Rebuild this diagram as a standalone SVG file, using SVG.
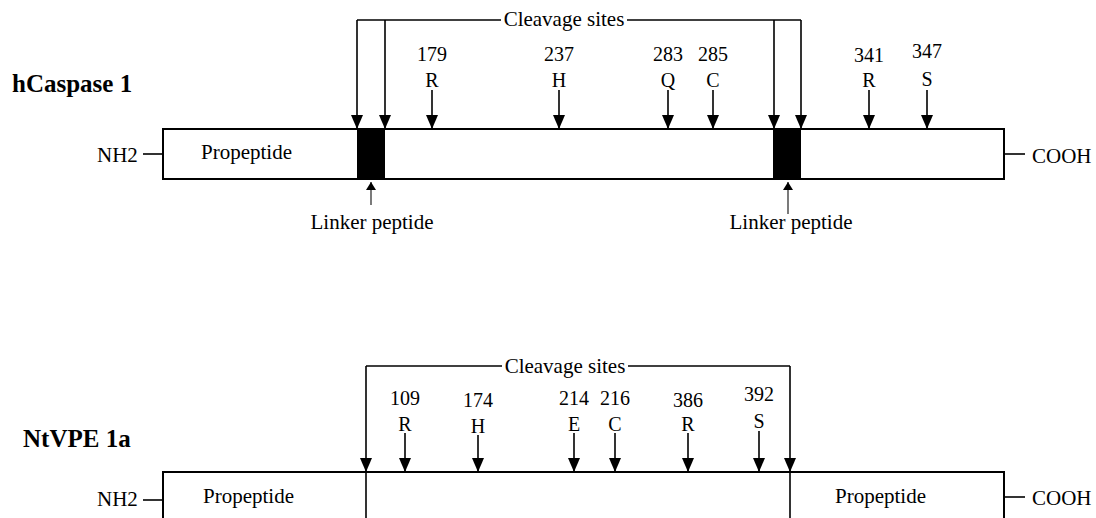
<svg xmlns="http://www.w3.org/2000/svg" width="1096" height="518" viewBox="0 0 1096 518">
<style>
text{font-family:"Liberation Serif","Times New Roman",serif;fill:#000}
.lbl{font-size:21px}
.num{font-size:20px;text-anchor:middle}
.ttl{font-size:25px;font-weight:bold}
.box{fill:#fff;stroke:#000;stroke-width:2}
.ln{stroke:#000;stroke-width:1.6;fill:none}
.arr{stroke:#000;stroke-width:1.6;fill:none;marker-end:url(#ah)}
.up{stroke:#222;stroke-width:1.2;fill:none;marker-end:url(#sh)}
</style>
<defs>
<marker id="ah" viewBox="0 0 14 12" refX="14" refY="6" markerWidth="14" markerHeight="12" markerUnits="userSpaceOnUse" orient="auto"><path d="M0,0 L14,6 L0,12 Z" fill="#000"/></marker>
<marker id="sh" viewBox="0 0 8 10" refX="8" refY="5" markerWidth="8" markerHeight="10" markerUnits="userSpaceOnUse" orient="auto"><path d="M0,0 L8,5 L0,10 Z" fill="#000"/></marker>
</defs>
<rect width="1096" height="518" fill="#fff"/>

<!-- hCaspase 1 -->
<g id="hcaspase">
<text class="ttl" x="12" y="92">hCaspase 1</text>
<rect class="box" x="163" y="129" width="841" height="50"/>
<rect x="357" y="129" width="28" height="50" fill="#000"/>
<rect x="773" y="129" width="28" height="50" fill="#000"/>
<text class="lbl" x="201" y="159">Propeptide</text>
<text class="lbl" x="97" y="162">NH2</text>
<text class="lbl" x="1032" y="163">COOH</text>
<text class="lbl" x="372" y="229" text-anchor="middle">Linker peptide</text>
<text class="lbl" x="791" y="229" text-anchor="middle">Linker peptide</text>
<text class="lbl" x="564" y="26" text-anchor="middle">Cleavage sites</text>
<text class="num" x="432" y="61">179</text><text class="num" x="432" y="87">R</text>
<text class="num" x="559" y="61">237</text><text class="num" x="559" y="87">H</text>
<text class="num" x="668" y="61">283</text><text class="num" x="668" y="87">Q</text>
<text class="num" x="713" y="61">285</text><text class="num" x="713" y="87">C</text>
<text class="num" x="869" y="62">341</text><text class="num" x="869" y="87">R</text>
<text class="num" x="927" y="58">347</text><text class="num" x="927" y="86">S</text>
</g>

<!-- NtVPE 1a -->
<g id="ntvpe">
<text class="ttl" x="23" y="447">NtVPE 1a</text>
<rect class="box" x="163" y="472" width="841" height="80"/>
<line class="ln" x1="366" y1="472" x2="366" y2="520"/>
<line class="ln" x1="790" y1="472" x2="790" y2="520"/>
<text class="lbl" x="203" y="503">Propeptide</text>
<text class="lbl" x="835" y="503">Propeptide</text>
<text class="lbl" x="97" y="506">NH2</text>
<text class="lbl" x="1032" y="505">COOH</text>
<text class="lbl" x="565" y="373" text-anchor="middle">Cleavage sites</text>
<text class="num" x="405" y="405">109</text><text class="num" x="405" y="431">R</text>
<text class="num" x="478" y="407">174</text><text class="num" x="478" y="433">H</text>
<text class="num" x="574" y="405">214</text><text class="num" x="574" y="431">E</text>
<text class="num" x="615" y="405">216</text><text class="num" x="615" y="431">C</text>
<text class="num" x="688" y="407">386</text><text class="num" x="688" y="431">R</text>
<text class="num" x="759" y="401">392</text><text class="num" x="759" y="428">S</text>
</g>

<g id="connectors">
<!-- top terminals -->
<line class="ln" x1="143" y1="154" x2="163" y2="154"/>
<line class="ln" x1="1004" y1="154" x2="1025" y2="154"/>
<!-- top cleavage bracket -->
<polyline class="ln" points="357,20 501,20"/>
<polyline class="ln" points="627,20 801,20"/>
<line class="arr" x1="357" y1="20" x2="357" y2="129"/>
<line class="arr" x1="385" y1="20" x2="385" y2="129"/>
<line class="arr" x1="774" y1="20" x2="774" y2="129"/>
<line class="arr" x1="801" y1="20" x2="801" y2="129"/>
<!-- top residues -->
<line class="arr" x1="432" y1="90" x2="432" y2="129"/>
<line class="arr" x1="559" y1="90" x2="559" y2="129"/>
<line class="arr" x1="668" y1="90" x2="668" y2="129"/>
<line class="arr" x1="713" y1="90" x2="713" y2="129"/>
<line class="arr" x1="869" y1="90" x2="869" y2="129"/>
<line class="arr" x1="927" y1="90" x2="927" y2="129"/>
<!-- linker arrows -->
<line class="up" x1="371" y1="205" x2="371" y2="182"/>
<line class="up" x1="788" y1="214" x2="788" y2="182"/>
<!-- bottom terminals -->
<line class="ln" x1="143" y1="500" x2="163" y2="500"/>
<line class="ln" x1="1004" y1="497" x2="1025" y2="497"/>
<!-- bottom cleavage bracket -->
<polyline class="ln" points="366,366 502,366"/>
<polyline class="ln" points="628,366 790,366"/>
<line class="arr" x1="366" y1="366" x2="366" y2="472"/>
<line class="arr" x1="790" y1="366" x2="790" y2="472"/>
<!-- bottom residues -->
<line class="arr" x1="405" y1="433" x2="405" y2="472"/>
<line class="arr" x1="478" y1="435" x2="478" y2="472"/>
<line class="arr" x1="574" y1="433" x2="574" y2="472"/>
<line class="arr" x1="615" y1="433" x2="615" y2="472"/>
<line class="arr" x1="688" y1="433" x2="688" y2="472"/>
<line class="arr" x1="759" y1="431" x2="759" y2="472"/>
</g>
</svg>
